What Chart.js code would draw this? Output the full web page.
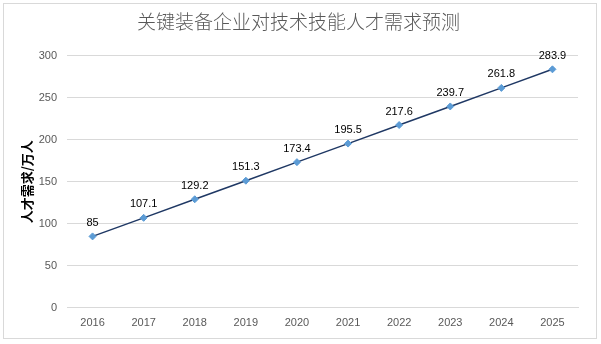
<!DOCTYPE html>
<html><head><meta charset="utf-8">
<script src="https://cdn.jsdelivr.net/npm/chart.js@4/dist/chart.umd.min.js"></script>
<style>
html,body{margin:0;padding:0;background:#fff;}
#wrap{position:absolute;left:0;top:0;width:601px;height:344px;}
#frame{position:absolute;left:3px;top:3px;width:592px;height:334px;border:1px solid #d9d9d9;pointer-events:none;}
</style></head>
<body>
<div id="wrap"><canvas id="c" width="601" height="344"></canvas><div id="frame"></div></div>
<script>
const years = ['2016','2017','2018','2019','2020','2021','2022','2023','2024','2025'];
const demand = [85,107.1,129.2,151.3,173.4,195.5,217.6,239.7,261.8,283.9];
const yTicks = [0,50,100,150,200,250,300];
const titleText = '关键装备企业对技术技能人才需求预测';
const yTitle = '人才需求/万人';

const FONT = '"Liberation Sans", Arial, "Noto Sans CJK SC", sans-serif';

const labelPlugin = {
  id:'labels',
  afterDatasetsDraw(chart){
    const ctx = chart.ctx;
    const meta = chart.getDatasetMeta(0);
    ctx.save();
    ctx.font = '11px ' + FONT;
    ctx.fillStyle = '#000';
    ctx.textAlign = 'center';
    ctx.textBaseline = 'bottom';
    meta.data.forEach((pt,i)=>{
      ctx.fillText(String(demand[i]), pt.x, pt.y - 8);
    });
    ctx.restore();
  }
};

new Chart(document.getElementById('c'), {
  type:'line',
  data:{labels:years, datasets:[{
    data:demand,
    borderColor:'#1f3864',
    borderWidth:1.5,
    pointStyle:'rectRot',
    pointRadius:3.5,
    pointBackgroundColor:'#5b9bd5',
    pointBorderColor:'#5b9bd5',
    pointBorderWidth:1,
    tension:0,
    clip:false
  }]},
  options:{
    responsive:false,
    animation:false,
    devicePixelRatio:1,
    layout:{padding:{left:19,right:23,top:0,bottom:5}},
    plugins:{
      legend:{display:false},
      tooltip:{enabled:false},
      title:{display:true,text:titleText,color:'#595959',
        font:{family:'"Noto Sans CJK SC", sans-serif',size:19,weight:'300'},
        padding:{top:10,bottom:23}}
    },
    scales:{
      x:{
        offset:true,
        grid:{display:false,drawTicks:false},
        border:{display:true,color:'#d9d9d9'},
        ticks:{color:'#595959',font:{family:FONT,size:11},padding:9}
      },
      y:{
        min:0,max:300,
        afterBuildTicks(axis){axis.ticks = yTicks.map(v=>({value:v}));},
        afterFit(axis){axis.width = 48;},
        grid:{color:'#d9d9d9',drawTicks:false},
        border:{display:false},
        ticks:{color:'#595959',font:{family:FONT,size:11},padding:10},
        title:{display:true,text:yTitle,color:'#000',
          font:{family:'"Noto Sans CJK SC", sans-serif',size:13,weight:'bold'},padding:{top:0,bottom:4}}
      }
    }
  },
  plugins:[labelPlugin]
});
</script>
</body></html>
